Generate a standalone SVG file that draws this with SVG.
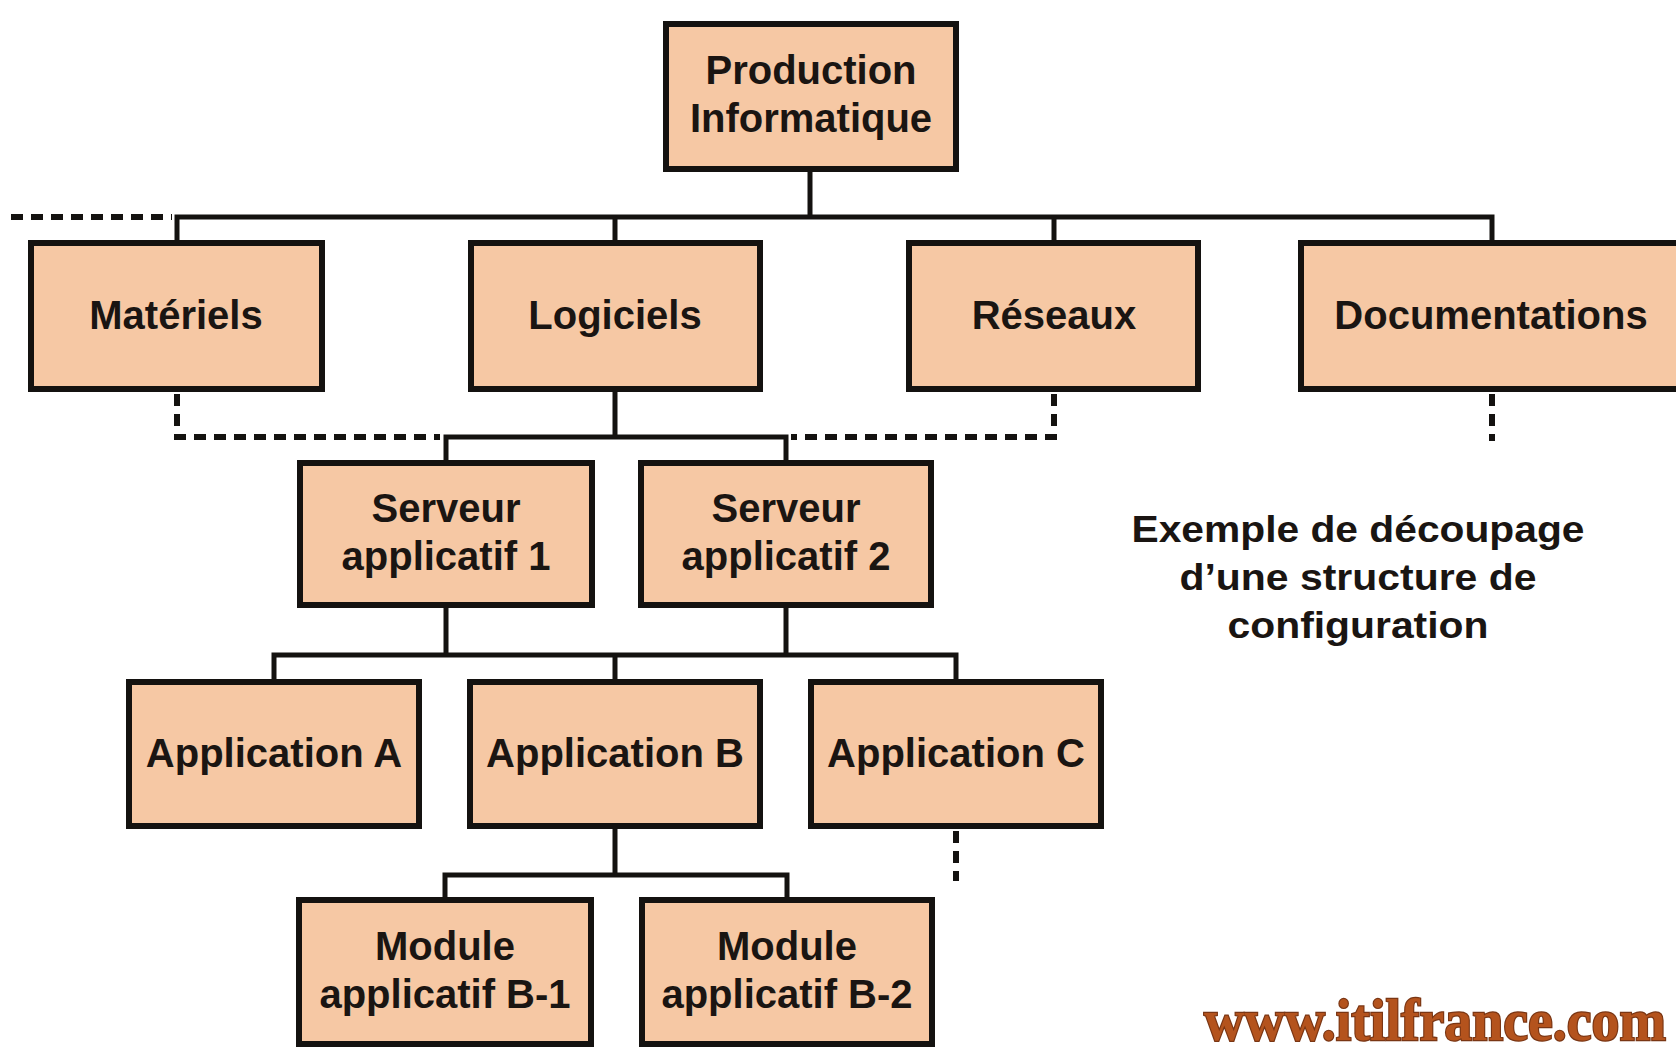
<svg xmlns="http://www.w3.org/2000/svg" width="1676" height="1059" viewBox="0 0 1676 1059">
  <style>
    .box { fill: #f6c8a4; stroke: #141210; stroke-width: 6; }
    .lbl { font-family: "Liberation Sans", Arial, sans-serif; font-weight: bold; font-size: 40px; fill: #1a1512; text-anchor: middle; }
    .wire { fill: none; stroke: #141210; stroke-width: 5; stroke-linecap: square; }
    .dash { fill: none; stroke: #141210; stroke-width: 6; stroke-dasharray: 12 8; }
    .note { font-family: "Liberation Sans", Arial, sans-serif; font-weight: bold; font-size: 36px; fill: #1a1512; text-anchor: middle; }
    .brand { font-family: "Liberation Serif", "Times New Roman", serif; font-weight: bold; font-size: 54px; fill: #b4531d; stroke: #7a3614; stroke-width: 2.2; paint-order: stroke; }
  </style>
  <rect width="1676" height="1059" fill="#ffffff"/>

  <!-- connectors -->
  <g id="connectors">
    <!-- root to first level -->
    <path class="wire" d="M810 172 V217 M177 217 H1492 M177 217 V240 M615 217 V240 M1054 217 V240 M1492 217 V240"/>
    <path class="dash" d="M11 217 H172"/>
    <!-- Logiciels to servers -->
    <path class="wire" d="M615 392 V437 M446 437 H786 M446 437 V460 M786 437 V460"/>
    <path class="dash" d="M177 394 V437 H440"/>
    <path class="dash" d="M1054 394 V437 H791"/>
    <path class="dash" d="M1492 394 V441"/>
    <!-- servers to applications -->
    <path class="wire" d="M446 608 V655 M786 608 V655 M274 655 H956 M274 655 V679 M615 655 V679 M956 655 V679"/>
    <path class="dash" d="M956 831 V881"/>
    <!-- Application B to modules -->
    <path class="wire" d="M615 829 V875 M445 875 H787 M445 875 V897 M787 875 V897"/>
  </g>

  <g id="node-production">
    <rect class="box" x="666" y="24" width="290" height="145"/>
    <text class="lbl" x="811" y="84">Production</text>
    <text class="lbl" x="811" y="132">Informatique</text>
  </g>

  <g id="node-materiels">
    <rect class="box" x="31" y="243" width="291" height="146"/>
    <text class="lbl" x="176" y="329">Matériels</text>
  </g>
  <g id="node-logiciels">
    <rect class="box" x="471" y="243" width="289" height="146"/>
    <text class="lbl" x="615" y="329">Logiciels</text>
  </g>
  <g id="node-reseaux">
    <rect class="box" x="909" y="243" width="289" height="146"/>
    <text class="lbl" x="1054" y="329">Réseaux</text>
  </g>
  <g id="node-documentations">
    <rect class="box" x="1301" y="243" width="400" height="146"/>
    <text class="lbl" x="1491" y="329">Documentations</text>
  </g>

  <g id="node-serveur-1">
    <rect class="box" x="300" y="463" width="292" height="142"/>
    <text class="lbl" x="446" y="522">Serveur</text>
    <text class="lbl" x="446" y="570">applicatif 1</text>
  </g>
  <g id="node-serveur-2">
    <rect class="box" x="641" y="463" width="290" height="142"/>
    <text class="lbl" x="786" y="522">Serveur</text>
    <text class="lbl" x="786" y="570">applicatif 2</text>
  </g>

  <g id="node-application-a">
    <rect class="box" x="129" y="682" width="290" height="144"/>
    <text class="lbl" x="274" y="767">Application A</text>
  </g>
  <g id="node-application-b">
    <rect class="box" x="470" y="682" width="290" height="144"/>
    <text class="lbl" x="615" y="767">Application B</text>
  </g>
  <g id="node-application-c">
    <rect class="box" x="811" y="682" width="290" height="144"/>
    <text class="lbl" x="956" y="767">Application C</text>
  </g>

  <g id="node-module-b1">
    <rect class="box" x="299" y="900" width="292" height="144"/>
    <text class="lbl" x="445" y="960">Module</text>
    <text class="lbl" x="445" y="1008">applicatif B-1</text>
  </g>
  <g id="node-module-b2">
    <rect class="box" x="642" y="900" width="290" height="144"/>
    <text class="lbl" x="787" y="960">Module</text>
    <text class="lbl" x="787" y="1008">applicatif B-2</text>
  </g>

  <!-- caption -->
  <g id="caption">
    <text class="note" x="1358" y="542" textLength="453" lengthAdjust="spacingAndGlyphs">Exemple de découpage</text>
    <text class="note" x="1358" y="590" textLength="357" lengthAdjust="spacingAndGlyphs">d’une structure de</text>
    <text class="note" x="1358" y="638" textLength="261" lengthAdjust="spacingAndGlyphs">configuration</text>
  </g>

  <!-- site mark, drawn slightly tall -->
  <text class="brand" transform="translate(1204 1040) scale(1 1.1)" x="0" y="0" textLength="462" lengthAdjust="spacingAndGlyphs">www.itilfrance.com</text>
</svg>
